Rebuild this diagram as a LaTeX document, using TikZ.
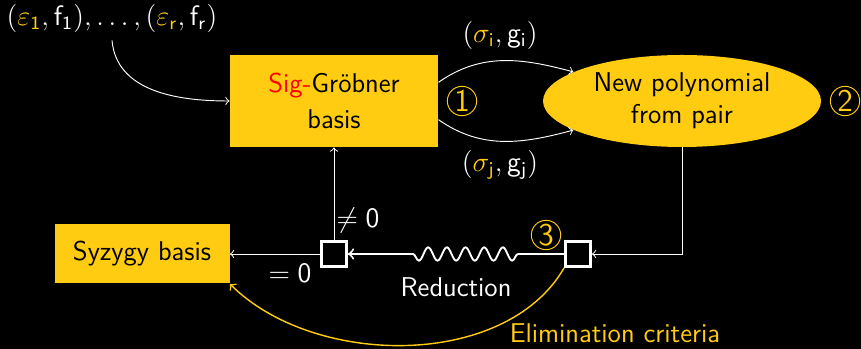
\documentclass[tikz,border=0pt]{standalone}
\usetikzlibrary{shapes.geometric,decorations.pathmorphing}
\definecolor{gyellow}{RGB}{255,204,17}
\begin{document}
\begin{tikzpicture}[
    font=\sffamily\fontsize{11.6}{13.5}\selectfont,
    box/.style={rectangle, fill=gyellow, text=black, align=center, inner sep=0pt},
    oval/.style={ellipse, fill=gyellow, text=black, align=center, inner sep=0pt},
    check/.style={rectangle, draw=white, very thick, minimum size=0.375cm, inner sep=0pt},
    num/.style={circle, draw=gyellow, text=gyellow, minimum size=0.44cm, inner sep=0pt, font=\sffamily\fontsize{13.5}{14}\selectfont},
    lbl/.style={text=white},
    arrow/.style={->, white},
    elim/.style={->, gyellow, semithick}
]
    % Background
    \useasboundingbox (0,0) rectangle (12.915,-5.235);
    \fill[black] (0,0) rectangle (12.915,-5.235);

    % Input
    \node[lbl] (input) at (1.68, -0.27) {$(\textcolor{gyellow}{\varepsilon_{\mathsf{1}}}, \mathsf{f_1}), \ldots, (\textcolor{gyellow}{\varepsilon_{\mathsf{r}}}, \mathsf{f_r})$};

    % Main loop
    \node[box, minimum width=3.12cm, minimum height=1.38cm] (gb) at (5.01, -1.515) {\textcolor{red}{Sig-}Gröbner\\[2pt]basis};
    \node[oval, minimum width=4.17cm, minimum height=1.38cm] (ell) at (10.23, -1.515) {New polynomial\\from pair};
    \node[num] (one) at (6.93, -1.515) {1};
    \node[num] (two) at (12.675, -1.515) {2};

    % Reduction
    \node[check] (lsq) at (5.01, -3.81) {};
    \node[check] (rsq) at (8.67, -3.81) {};
    \node[num] (three) at (8.19, -3.525) {3};
    \node[box, minimum width=2.625cm, minimum height=0.885cm] (syz) at (2.13, -3.81) {Syzygy basis};
    \coordinate (s1) at (7.77, -3.81);
    \coordinate (s2) at (6.075, -3.81);

    % Labels
    \node[lbl] (pi) at (7.5, -0.525) {$(\textcolor{gyellow}{\sigma_{\mathsf{i}}}, \mathsf{g_i})$};
    \node[lbl] (pj) at (7.5, -2.475) {$(\textcolor{gyellow}{\sigma_{\mathsf{j}}}, \mathsf{g_j})$};
    \node[lbl] (nz) at (5.37, -3.3) {$\neq \mathsf{0}$};
    \node[lbl] (iz) at (4.35, -4.095) {$= \mathsf{0}$};
    \node[lbl] (red) at (6.84, -4.305) {Reduction};
    \node[text=gyellow] (crit) at (9.225, -4.995) {Elimination criteria};

    % Arrows
    \draw[arrow] (input.south) to[out=-85, in=180] (gb.west);
    \draw[arrow] ([yshift=0.28cm]gb.east) to[out=35, in=165] (ell.165);
    \draw[arrow] ([yshift=-0.28cm]gb.east) to[out=-35, in=195] (ell.195);
    \draw[arrow] (ell.south) |- (rsq.east);
    \draw[white, thick] (rsq.west) -- (s1);
    \draw[white, thick, decorate, decoration={snake, segment length=0.28cm, amplitude=0.1cm}] (s1) -- (s2);
    \draw[arrow, thick] (s2) -- (lsq.east);
    \draw[arrow] (lsq.north) -- (gb.south);
    \draw[arrow] (lsq.west) -- (syz.east);
    \draw[elim] (rsq.south west) to[out=-120, in=-45, looseness=0.9] (syz.south east);
\end{tikzpicture}
\end{document}
